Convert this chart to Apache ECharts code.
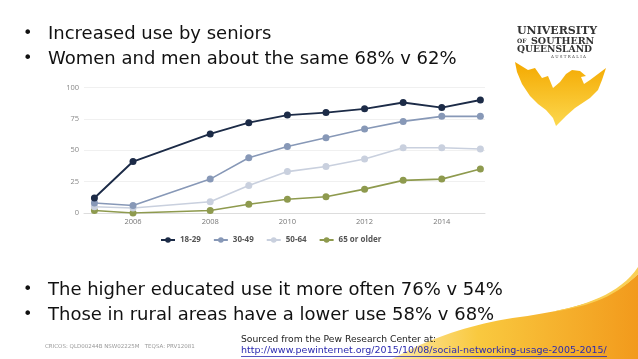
<!DOCTYPE html>
<html>
<head>
<meta charset="utf-8">
<script src="https://cdn.jsdelivr.net/npm/echarts@6/dist/echarts.min.js"></script>
<style>
html,body{margin:0;padding:0;background:#fff;}
#c{width:638px;height:359px;}
</style>
</head>
<body>
<div id="c"></div>
<script>
var years = [2005, 2006, 2008, 2009, 2010, 2011, 2012, 2013, 2014, 2015];
var seriesNames = ['18-29', '30-49', '50-64', '65 or older'];
var age18to29 = [12, 41, 63, 72, 78, 80, 83, 88, 84, 90];
var age30to49 = [8, 6, 27, 44, 53, 60, 67, 73, 77, 77];
var age50to64 = [5, 4, 9, 22, 33, 37, 43, 52, 52, 51];
var age65plus = [2, 0, 2, 7, 11, 13, 19, 26, 27, 35];
var xTickYears = [2006, 2008, 2010, 2012, 2014];
var bulletsTop = ['Increased use by seniors', 'Women and men about the same 68% v 62%'];
var bulletsBottom = ['The higher educated use it more often 76% v 54%', 'Those in rural areas have a lower use 58% v 68%'];

var colors = ['#1c2b47', '#8798b7', '#c9d0de', '#8e9a4e'];
var allValues = [age18to29, age30to49, age50to64, age65plus];

function pairs(vals) {
  return years.map(function (y, i) { return [y, vals[i]]; });
}

var series = seriesNames.map(function (name, i) {
  return {
    name: name,
    type: 'line',
    data: pairs(allValues[i]),
    symbol: 'circle',
    symbolSize: 7,
    color: colors[i],
    lineStyle: { width: i === 0 ? 1.9 : 1.6, color: colors[i] },
    itemStyle: { color: colors[i] },
    z: 10 - i
  };
});

// cubic bezier sampling for decorative shapes
function bez(p0, p1, p2, p3, n) {
  var out = [];
  for (var k = 0; k <= n; k++) {
    var t = k / n, u = 1 - t;
    out.push([
      u*u*u*p0[0] + 3*u*u*t*p1[0] + 3*u*t*t*p2[0] + t*t*t*p3[0],
      u*u*u*p0[1] + 3*u*u*t*p1[1] + 3*u*t*t*p2[1] + t*t*t*p3[1]
    ]);
  }
  return out;
}

var bodyFont = '"DejaVu Sans", Verdana, sans-serif';
var graphics = [];
function bullet(text, baseline) {
  graphics.push({ type: 'text', x: 23, y: baseline - 6, style: { text: '\u2022', fontSize: 16, fontFamily: bodyFont, fill: '#111', verticalAlign: 'middle' } });
  graphics.push({ type: 'text', x: 48, y: baseline - 6, style: { text: text, fontSize: 18, fontFamily: bodyFont, fill: '#111', verticalAlign: 'middle' } });
}
bullet(bulletsTop[0], 40);
bullet(bulletsTop[1], 65);
bullet(bulletsBottom[0], 296);
bullet(bulletsBottom[1], 321);

// swoosh
var sw = bez([392, 359], [430, 338], [470, 324], [520, 317], 20)
  .concat(bez([520, 317], [570, 310], [612, 300], [638, 274], 20).slice(1));
sw.push([638, 359]);
graphics.push({
  type: 'polygon', z: -1,
  shape: { points: sw },
  style: { fill: new echarts.graphic.LinearGradient(0, 0, 1, 0, [
    { offset: 0, color: '#fde9a6' }, { offset: 0.35, color: '#f9c93f' }, { offset: 1, color: '#f29a1c' }
  ]) }
});
var st = bez([545, 313], [585, 306], [620, 294], [638, 267], 16)
  .concat(bez([638, 274], [612, 300], [585, 307], [545, 313], 16));
graphics.push({ type: 'polygon', z: -1, shape: { points: st }, style: { fill: '#f9cf55' } });

// footer
graphics.push({ type: 'text', x: 45, y: 347, style: { text: 'CRICOS: QLD00244B NSW02225M   TEQSA: PRV12081', fontSize: 5.5, fontFamily: bodyFont, fill: '#999', verticalAlign: 'middle' } });
graphics.push({ type: 'text', x: 241, y: 340, z: 5, style: { text: 'Sourced from the Pew Research Center at:', fontSize: 9.2, fontFamily: bodyFont, fill: '#222', verticalAlign: 'middle' } });
graphics.push({ type: 'text', x: 241, y: 351, z: 5, style: { text: 'http://www.pewinternet.org/2015/10/08/social-networking-usage-2005-2015/', fontSize: 9.5, fontFamily: bodyFont, fill: '#2a2ab0', verticalAlign: 'middle' } });
graphics.push({ type: 'line', z: 5, shape: { x1: 241, y1: 356.5, x2: 607, y2: 356.5 }, style: { stroke: '#2a2ab0', lineWidth: 0.8 } });

// logo text
var serif = '"DejaVu Serif", "Liberation Serif", serif';
graphics.push({ type: 'text', x: 517, y: 31.5, style: { text: 'UNIVERSITY', fontSize: 11, fontWeight: 'bold', fontFamily: serif, fill: '#333', verticalAlign: 'middle' } });
graphics.push({ type: 'text', x: 517, y: 41.5, style: { text: 'OF', fontSize: 6, fontWeight: 'bold', fontFamily: serif, fill: '#333', verticalAlign: 'middle' } });
graphics.push({ type: 'text', x: 531, y: 41.5, style: { text: 'SOUTHERN', fontSize: 9.5, fontWeight: 'bold', fontFamily: serif, fill: '#333', verticalAlign: 'middle' } });
graphics.push({ type: 'text', x: 517, y: 49.5, style: { text: 'QUEENSLAND', fontSize: 9.2, fontWeight: 'bold', fontFamily: serif, fill: '#333', verticalAlign: 'middle' } });
graphics.push({ type: 'text', x: 551, y: 56.5, style: { text: 'A U S T R A L I A', fontSize: 4, fontFamily: serif, fill: '#444', verticalAlign: 'middle' } });
graphics.push({
  type: 'polygon',
  shape: { points: [[515,62],[528,70],[535,68],[542,78],[548,76],[553,88],[560,82],[566,74],[572,70],[580,71],[586,76],[581,77],[584,84],[590,80],[598,74],[606,68],[602,80],[598,90],[590,98],[584,102],[575,108],[566,116],[556,126],[553,118],[546,110],[538,104],[530,96],[522,84],[517,72]] },
  style: { fill: new echarts.graphic.LinearGradient(0, 0, 0, 1, [
    { offset: 0, color: '#f4a900' }, { offset: 1, color: '#fcd84e' }
  ]) }
});

var chart = echarts.init(document.getElementById('c'), null, { renderer: 'canvas' });
chart.setOption({
  backgroundColor: '#fff',
  animation: false,
  graphic: graphics,
  grid: { left: 84, right: 153, top: 87.5, bottom: 146, containLabel: false },
  legend: {
    data: seriesNames,
    left: 155, top: 231,
    itemWidth: 14, itemHeight: 7, itemGap: 12,
    textStyle: { fontSize: 8, fontWeight: 'bold', color: '#555', fontFamily: '"Open Sans", sans-serif' }
  },
  xAxis: {
    type: 'value', min: 2004.73, max: 2015.12,
    axisLine: { show: true, lineStyle: { color: '#ddd' } },
    axisTick: { show: false },
    splitLine: { show: false },
    axisLabel: { customValues: xTickYears, fontSize: 7.5, color: '#777', margin: 5, fontFamily: '"Open Sans", sans-serif', formatter: function (v) { return String(v); } }
  },
  yAxis: {
    type: 'value', min: 0, max: 100, interval: 25,
    axisLine: { show: false }, axisTick: { show: false },
    splitLine: { lineStyle: { color: '#f0f0f0' } },
    axisLabel: { fontSize: 7.5, color: '#888', margin: 5, fontFamily: '"Open Sans", sans-serif' }
  },
  series: series
});
</script>
</body>
</html>
